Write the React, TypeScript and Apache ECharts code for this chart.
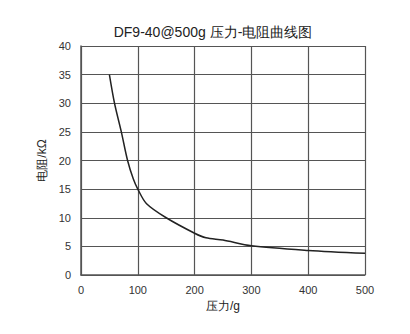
import React, { useEffect, useRef } from "react";
import * as echarts from "echarts";

const titleText = "DF9-40@500g 压力-电阻曲线图";
const xName = "压力/g";
const yName = "电阻/kΩ";
const pressure = [50, 59, 71, 82, 92, 100, 115, 150, 200, 220, 250, 300, 400, 500];
const resistance = [35, 30, 25, 20, 16.8, 15, 12.5, 10, 7.3, 6.5, 6.1, 5.1, 4.3, 3.8];

export default function App() {
  const ref = useRef<HTMLDivElement>(null);
  useEffect(() => {
    const chart = echarts.init(ref.current!, null, { renderer: "svg" });
    const font = "Liberation Sans, Arial, sans-serif";
    chart.setOption({
      animation: false,
      title: {
        text: titleText,
        left: 208,
        textAlign: "center",
        top: 20,
        textStyle: { fontSize: 14, fontWeight: "normal", color: "#222", fontFamily: font },
      },
      grid: { left: 81, right: 45, top: 46, bottom: 59 },
      xAxis: {
        type: "value",
        min: 0,
        max: 500,
        interval: 100,
        name: xName,
        nameLocation: "middle",
        nameGap: 24,
        nameTextStyle: { fontSize: 12, color: "#222", fontFamily: font },
        axisLine: { lineStyle: { color: "#555", width: 1.5 } },
        axisTick: { show: false },
        axisLabel: { fontSize: 11, color: "#333", margin: 9, fontFamily: font },
        splitLine: { show: true, lineStyle: { color: "#555", width: 1.2 } },
      },
      yAxis: {
        type: "value",
        min: 0,
        max: 40,
        interval: 5,
        name: yName,
        nameLocation: "middle",
        nameGap: 28,
        nameRotate: 90,
        nameTextStyle: { fontSize: 12, color: "#222", fontFamily: font },
        axisLine: { show: true, lineStyle: { color: "#555", width: 1.5 } },
        axisTick: { show: false },
        axisLabel: { fontSize: 11, color: "#333", margin: 10, fontFamily: font },
        splitLine: { show: true, lineStyle: { color: "#555", width: 1.2 } },
      },
      series: [
        {
          type: "line",
          data: pressure.map((p, i) => [p, resistance[i]]),
          smooth: 0.3,
          showSymbol: false,
          lineStyle: { color: "#222", width: 1.5 },
        },
      ],
    });
    return () => chart.dispose();
  }, []);
  return (
    <div
      ref={ref}
      style={{ position: "absolute", left: 0, top: 0, width: 410, height: 334 }}
    />
  );
}
